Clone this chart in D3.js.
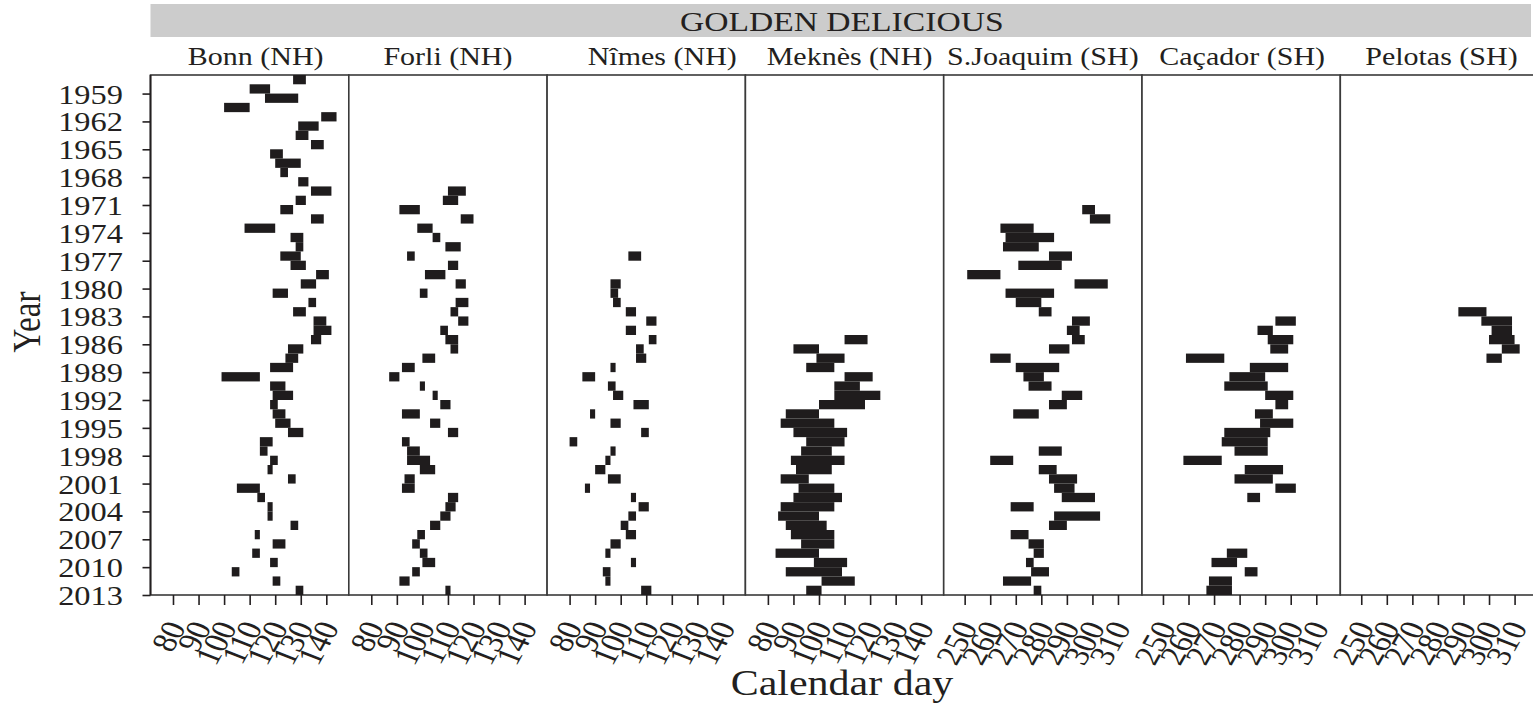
<!DOCTYPE html>
<html>
<head>
<meta charset="utf-8">
<script src="https://cdn.jsdelivr.net/npm/d3@7"></script>
<style>
  body { margin: 0; background: #fff; }
  text { font-family: "Liberation Serif", "Times New Roman", serif; fill: #231f20; }
</style>
</head>
<body>
<div id="chart"></div>
<script>
// dados: [ano, dia inicio, dia fim] da floracao
const bonn = [[1958,127,132],[1959,110,118],[1960,116,129],[1961,100,110],[1962,138,144],[1963,129,137],[1964,128,133],
  [1965,134,139],[1966,118,123],[1967,120,130],[1968,122,125],[1969,129,133],[1970,134,142],[1971,128,132],[1972,122,127],
  [1973,134,139],[1974,108,120],[1975,126,131],[1976,128,131],[1977,122,130],[1978,126,132],[1979,136,141],[1980,130,136],
  [1981,119,125],[1982,133,136],[1983,127,132],[1984,135,140],[1985,135,142],[1986,134,138],[1987,125,131],[1988,124,129],
  [1989,118,127],[1990,99,114],[1991,118,124],[1992,119,127],[1993,118,121],[1994,119,124],[1995,120,126],[1996,125,131],
  [1997,114,119],[1998,114,117],[1999,118,121],[2000,117,119],[2001,125,128],[2002,105,114],[2003,113,116],[2004,117,119],
  [2005,117,119],[2006,126,129],[2007,112,114],[2008,119,124],[2009,111,114],[2010,118,121],[2011,103,106],[2012,119,122],
  [2013,128,131]];
const forli = [[1970,110,117],[1971,108,114],[1972,91,99],[1973,115,120],[1974,98,104],[1975,104,107],[1976,109,115],
  [1977,94,97],[1978,110,114],[1979,101,109],[1980,113,117],[1981,99,102],[1982,113,118],[1983,111,114],[1984,114,118],
  [1985,107,110],[1986,109,114],[1987,111,114],[1988,100,105],[1989,92,97],[1990,87,91],[1991,99,101],[1992,104,106],
  [1993,107,111],[1994,92,99],[1995,103,107],[1996,110,114],[1997,92,95],[1998,94,99],[1999,94,103],[2000,99,105],
  [2001,93,97],[2002,92,97],[2003,110,114],[2004,109,113],[2005,107,111],[2006,103,107],[2007,98,101],[2008,96,99],
  [2009,99,102],[2010,100,105],[2011,96,99],[2012,91,95],[2013,109,111]];
const nimes = [[1977,103,108],[1980,96,100],[1981,96,99],[1982,97,100],[1983,102,106],[1984,110,114],[1985,102,106],
  [1986,111,114],[1987,106,109],[1988,106,110],[1989,96,98],[1990,85,90],[1991,95,98],[1992,97,101],[1993,105,111],
  [1994,88,90],[1995,96,100],[1996,108,111],[1997,80,83],[1998,96,98],[1999,94,96],[2000,90,94],[2001,95,100],
  [2002,86,88],[2003,104,106],[2004,107,111],[2005,103,106],[2006,100,103],[2007,102,106],[2008,96,100],[2009,94,96],
  [2010,104,106],[2011,93,96],[2012,94,96],[2013,108,112]];
const meknes = [[1986,110,119],[1987,90,100],[1988,99,110],[1989,95,106],[1990,110,121],[1991,106,116],[1992,106,124],
  [1993,100,118],[1994,87,100],[1995,85,106],[1996,90,111],[1997,95,110],[1998,93,105],[1999,89,110],[2000,91,105],
  [2001,85,96],[2002,92,106],[2003,90,109],[2004,85,106],[2005,84,100],[2006,87,103],[2007,89,106],[2008,93,106],
  [2009,83,100],[2010,98,111],[2011,87,109],[2012,101,114],[2013,95,101]];
const sjoaquim = [[1972,296,301],[1973,299,307],[1974,264,277],[1975,266,285],[1976,265,279],[1977,283,292],[1978,271,288],
  [1979,251,264],[1980,293,306],[1981,266,285],[1982,270,280],[1983,279,284],[1984,292,299],[1985,290,295],[1986,292,297],
  [1987,283,291],[1988,260,268],[1989,270,287],[1990,273,281],[1991,275,284],[1992,288,296],[1993,283,290],[1994,269,279],
  [1998,279,288],[1999,260,269],[2000,279,286],[2001,283,294],[2002,285,293],[2003,288,301],[2004,268,277],[2005,285,303],
  [2006,283,290],[2007,268,275],[2008,275,281],[2009,277,281],[2010,274,277],[2011,276,283],[2012,265,276],[2013,277,280]];
const cacador = [[1984,294,302],[1985,287,293],[1986,291,301],[1987,292,299],[1988,259,274],[1989,284,299],[1990,276,290],
  [1991,274,291],[1992,290,301],[1993,294,299],[1994,286,293],[1995,288,301],[1996,274,292],[1997,273,291],[1998,278,291],
  [1999,258,273],[2000,282,297],[2001,278,293],[2002,294,302],[2003,283,288],[2009,275,283],[2010,269,279],[2011,282,287],
  [2012,268,277],[2013,267,277]];
const pelotas = [[1983,288,299],[1984,297,309],[1985,301,309],[1986,300,310],[1987,305,312],[1988,299,305]];

const siteNames = ['Bonn (NH)','Forli (NH)','Nîmes (NH)','Meknès (NH)','S.Joaquim (SH)','Caçador (SH)','Pelotas (SH)'];
const siteData = [bonn, forli, nimes, meknes, sjoaquim, cacador, pelotas];
const hemis = ['NH','NH','NH','NH','SH','SH','SH'];
const ticksNH = [80,90,100,110,120,130,140];
const ticksSH = [250,260,270,280,290,300,310];
const yearTicks = [1959,1962,1965,1968,1971,1974,1977,1980,1983,1986,1989,1992,1995,1998,2001,2004,2007,2010,2013];
const titulo = 'GOLDEN DELICIOUS';

const W = 1533, H = 705;
const SX = 1.2; // o original foi esticado na horizontal
const left0 = 150.5, pw = 198.3, topo = 75, fundo = 595;
const desloc = [6, 0, 16, 5, 0, 1, 2]; // deslocamento dos titulos dos paineis

const svg = d3.select('#chart').append('svg').attr('width', W).attr('height', H);

const y = d3.scaleLinear().domain([1957, 2013]).range([topo, fundo]);

function texto(x, yy, str, size, anchor, rot) { // texto esticado
  return svg.append('text')
    .attr('transform', `translate(${x},${yy}) scale(${SX},1)` + (rot ? ` rotate(${rot})` : ''))
    .attr('text-anchor', anchor)
    .style('font-size', size + 'px')
    .text(str);
}

// faixa cinza do titulo
svg.append('rect').attr('x', left0).attr('y', 4).attr('width', 1531 - left0).attr('height', 33).attr('fill', '#cccccc');
texto((left0 + 1533) / 2, 31, titulo, 28, 'middle');

siteNames.forEach((nome, i) => {
  const x0 = left0 + i * pw;
  const dom = hemis[i] === 'NH' ? [71.2, 148.8] : [241.8, 319.4];
  const x = d3.scaleLinear().domain(dom).range([x0, x0 + pw]);

  const g = svg.append('g');
  g.append('rect').attr('x', x0).attr('y', topo).attr('width', pw).attr('height', fundo - topo)
    .attr('fill', '#fff').attr('stroke', '#3a3a3a').attr('stroke-width', 1.6);

  g.selectAll('rect.bar').data(siteData[i]).join('rect').attr('class', 'bar')
    .attr('x', d => x(d[1]))
    .attr('width', d => x(d[2]) - x(d[1]))
    .attr('y', d => y(d[0] - 1))
    .attr('height', d => y(d[0]) - y(d[0] - 1))
    .attr('fill', '#1f1c1d');

  const ax = svg.append('g').attr('transform', `translate(0,${fundo})`)
    .call(d3.axisBottom(x).tickValues(hemis[i] === 'NH' ? ticksNH : ticksSH).tickSize(10).tickSizeOuter(0));
  ax.select('.domain').remove();
  ax.selectAll('line').attr('stroke', '#231f20').attr('stroke-width', 1.6);
  ax.selectAll('text')
    .attr('x', 0).attr('y', 0).attr('dy', '0.35em')
    .attr('transform', `translate(2,28) scale(${SX},1) rotate(-65)`)
    .style('text-anchor', 'end')
    .style('font-size', '29px');

  texto(x0 + pw / 2 + desloc[i], 65, nome, 25, 'middle');
});

// eixo dos anos
const ay = svg.append('g').attr('transform', `translate(${left0},0)`)
  .call(d3.axisLeft(y).tickValues(yearTicks).tickFormat(d3.format('d')).tickSize(8).tickPadding(15).tickSizeOuter(0));
ay.select('.domain').remove();
ay.selectAll('line').attr('stroke', '#231f20').attr('stroke-width', 1.6);
ay.selectAll('text').attr('transform', `scale(${SX},1)`).style('font-size', '27px').attr('dy', '0.35em');
svg.append('line').attr('x1', left0).attr('x2', left0).attr('y1', topo).attr('y2', fundo)
  .attr('stroke', '#231f20').attr('stroke-width', 1.8);

texto(842, 695, 'Calendar day', 35, 'middle');
texto(40, 322, 'Year', 33, 'middle', -90);
</script>
</body>
</html>
